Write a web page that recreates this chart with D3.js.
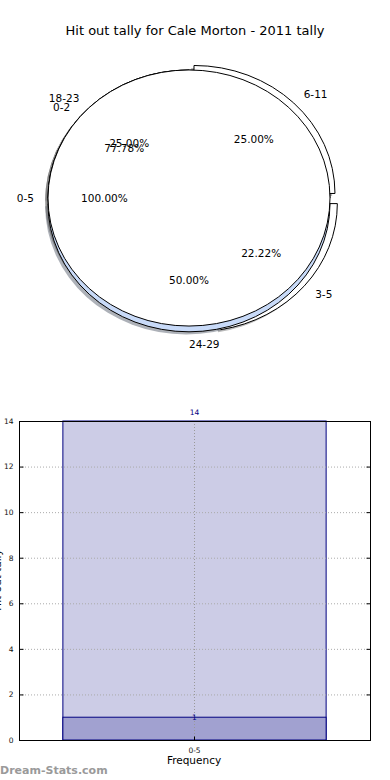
<!DOCTYPE html>
<html>
<head>
<meta charset="utf-8">
<script src="https://cdn.jsdelivr.net/npm/d3@7"></script>
<style>
  html, body { margin: 0; padding: 0; background: #fff; }
  svg { display: block; font-family: "DejaVu Sans", sans-serif; }
</style>
</head>
<body>
<div id="chart"></div>
<script>
// pie rings (three pies drawn over each other)
const ringA = ['0-5'];
const ringAValues = [100];
const ringB = ['0-2', '3-5'];
const ringBValues = [77.78, 22.22];
const ringC = ['6-11', '18-23', '24-29'];
const ringCValues = [25, 25, 50];

// bar chart
const barCategories = ['0-5'];
const barTotals = [14];
const barLower = [1];
const yTicks = [0, 2, 4, 6, 8, 10, 12, 14];

const title = 'Hit out tally for Cale Morton - 2011 tally';

const W = 390, H = 780;
const svg = d3.select('#chart').append('svg')
  .attr('width', W)
  .attr('height', H);

svg.append('text')
  .attr('x', 195)
  .attr('y', 35)
  .attr('text-anchor', 'middle')
  .style('font-size', '13px')
  .text(title);

// ---- pie ----
const cx = 189, cy = 198, rx = 141, ry = 128;
const explode = { '3-5': 0.068, '6-11': 0.05, '24-29': 0.045 };
const blue = '#c8daf8';
const fillOf = (label) => label === '24-29' ? blue : '#ffffff';

const pie = d3.pie()
  .sort(null)
  .startAngle(Math.PI / 2)
  .endAngle(Math.PI / 2 - 2 * Math.PI)
  .value((d) => d.value);

const arc = d3.arc().innerRadius(0).outerRadius(rx);

const toRows = (labels, values) => labels.map((l, i) => ({ label: l, value: values[i] }));
// draw order: B under C under A
const rings = [toRows(ringB, ringBValues), toRows(ringC, ringCValues), toRows(ringA, ringAValues)];
const slices = [];
rings.forEach((rows) => {
  const total = d3.sum(rows, (d) => d.value);
  pie(rows).forEach((p) => {
    const m = (p.startAngle + p.endAngle) / 2;
    const e = explode[p.data.label] || 0;
    slices.push({
      p, m, total,
      ox: cx + e * rx * Math.sin(m),
      oy: cy - e * ry * Math.cos(m),
    });
  });
});

const pieG = svg.append('g');

// shadows under everything
pieG.selectAll('.shadow')
  .data(slices)
  .enter()
  .append('path')
  .attr('class', 'shadow')
  .attr('transform', (s) => `translate(${s.ox - 2.8}, ${s.oy + 2.6}) scale(1, ${ry / rx})`)
  .attr('d', (s) => arc(s.p))
  .style('fill', (s) => d3.color(fillOf(s.p.data.label)).darker(2.2))
  .style('fill-opacity', 0.5);

pieG.selectAll('.wedge')
  .data(slices)
  .enter()
  .append('path')
  .attr('class', 'wedge')
  .attr('transform', (s) => `translate(${s.ox}, ${s.oy}) scale(1, ${ry / rx})`)
  .attr('d', (s) => arc(s.p))
  .attr('vector-effect', 'non-scaling-stroke')
  .style('fill', (s) => fillOf(s.p.data.label))
  .style('stroke', '#000')
  .style('stroke-width', 1);

// labels at 1.1 r, percentages at 0.6 r
pieG.selectAll('.lbl')
  .data(slices)
  .enter()
  .append('text')
  .attr('x', (s) => s.ox + 1.1 * rx * Math.sin(s.m))
  .attr('y', (s) => s.oy - 1.1 * ry * Math.cos(s.m))
  .attr('dy', '0.35em')
  .attr('text-anchor', (s) => Math.sin(s.m) > 0 ? 'start' : 'end')
  .style('font-size', '10.5px')
  .text((s) => s.p.data.label);

pieG.selectAll('.pct')
  .data(slices)
  .enter()
  .append('text')
  .attr('x', (s) => s.ox + 0.6 * rx * Math.sin(s.m))
  .attr('y', (s) => s.oy - 0.6 * ry * Math.cos(s.m))
  .attr('dy', '0.35em')
  .attr('text-anchor', 'middle')
  .style('font-size', '10.5px')
  .text((s) => d3.format('.2f')(s.p.data.value / s.total * 100) + '%');

// ---- bars ----
const plot = { left: 19, right: 370, top: 421, bottom: 740 };
const x = d3.scaleBand()
  .domain(barCategories)
  .range([plot.left, plot.right])
  .paddingInner(0.25)
  .paddingOuter(0.125);
const y = d3.scaleLinear()
  .domain([0, 14])
  .range([plot.bottom, plot.top]);

const barG = svg.append('g');

barG.selectAll('.bar-total')
  .data(barCategories)
  .enter()
  .append('rect')
  .attr('x', (d) => x(d))
  .attr('y', (d, i) => y(barTotals[i]))
  .attr('width', x.bandwidth())
  .attr('height', (d, i) => y(0) - y(barTotals[i]))
  .style('fill', '#ccccE6')
  .style('stroke', '#000080')
  .style('stroke-width', 1);

barG.selectAll('.bar-lower')
  .data(barCategories)
  .enter()
  .append('rect')
  .attr('x', (d) => x(d))
  .attr('y', (d, i) => y(barLower[i]))
  .attr('width', x.bandwidth())
  .attr('height', (d, i) => y(0) - y(barLower[i]))
  .style('fill', '#a1a1d0')
  .style('stroke', '#000080')
  .style('stroke-width', 1);

// dotted grid
barG.selectAll('.hgrid')
  .data(yTicks.slice(1, -1))
  .enter()
  .append('line')
  .attr('x1', plot.left)
  .attr('x2', plot.right)
  .attr('y1', (d) => y(d) + 0.5)
  .attr('y2', (d) => y(d) + 0.5)
  .style('stroke', '#aaa')
  .style('stroke-dasharray', '1,2');

barG.selectAll('.vgrid')
  .data(barCategories)
  .enter()
  .append('line')
  .attr('x1', (d) => x(d) + x.bandwidth() / 2)
  .attr('x2', (d) => x(d) + x.bandwidth() / 2)
  .attr('y1', plot.top)
  .attr('y2', plot.bottom)
  .style('stroke', '#999')
  .style('stroke-dasharray', '1,2');

// value labels
barG.selectAll('.val-total')
  .data(barCategories)
  .enter()
  .append('text')
  .attr('x', (d) => x(d) + x.bandwidth() / 2)
  .attr('y', (d, i) => y(barTotals[i]) - 6)
  .attr('text-anchor', 'middle')
  .style('font-size', '7.5px')
  .style('fill', '#000080')
  .text((d, i) => barTotals[i]);

barG.selectAll('.val-lower')
  .data(barCategories)
  .enter()
  .append('text')
  .attr('x', (d) => x(d) + x.bandwidth() / 2)
  .attr('y', (d, i) => y(barLower[i]) + 3)
  .attr('text-anchor', 'middle')
  .style('font-size', '7.5px')
  .style('fill', '#000080')
  .text((d, i) => barLower[i]);

// frame
barG.append('rect')
  .attr('x', plot.left + 0.5)
  .attr('y', plot.top + 0.5)
  .attr('width', plot.right - plot.left)
  .attr('height', plot.bottom - plot.top)
  .style('fill', 'none')
  .style('stroke', '#000')
  .style('stroke-width', 1);

// inward ticks on both sides
const yAxisL = d3.axisLeft(y).tickValues(yTicks).tickSizeInner(-4).tickSizeOuter(0).tickPadding(6);
const gy = barG.append('g')
  .attr('transform', `translate(${plot.left + 0.5},0)`)
  .call(yAxisL);
gy.select('.domain').remove();
gy.selectAll('text').style('font-size', '7.5px').style('font-family', 'DejaVu Sans').attr('fill', '#111');

const gyR = barG.append('g')
  .attr('transform', `translate(${plot.right + 0.5},0)`)
  .call(d3.axisRight(y).tickValues(yTicks).tickSizeInner(-4).tickSizeOuter(0).tickFormat(''));
gyR.select('.domain').remove();

const gx = barG.append('g')
  .attr('transform', `translate(0,${plot.bottom + 0.5})`)
  .call(d3.axisBottom(x).tickSizeInner(-4).tickSizeOuter(0).tickPadding(7));
gx.select('.domain').remove();
gx.selectAll('text').style('font-size', '7.5px').style('font-family', 'DejaVu Sans').attr('fill', '#111');

svg.append('text')
  .attr('x', 194)
  .attr('y', 764)
  .attr('text-anchor', 'middle')
  .style('font-size', '10.5px')
  .text('Frequency');

svg.append('text')
  .attr('transform', 'translate(1,580) rotate(-90)')
  .attr('text-anchor', 'middle')
  .style('font-size', '10.5px')
  .text('Hit out tally');

svg.append('text')
  .attr('x', 0)
  .attr('y', 774)
  .style('font-size', '11px')
  .style('font-weight', 'bold')
  .style('fill', '#9a9a9a')
  .text('Dream-Stats.com');
</script>
</body>
</html>
